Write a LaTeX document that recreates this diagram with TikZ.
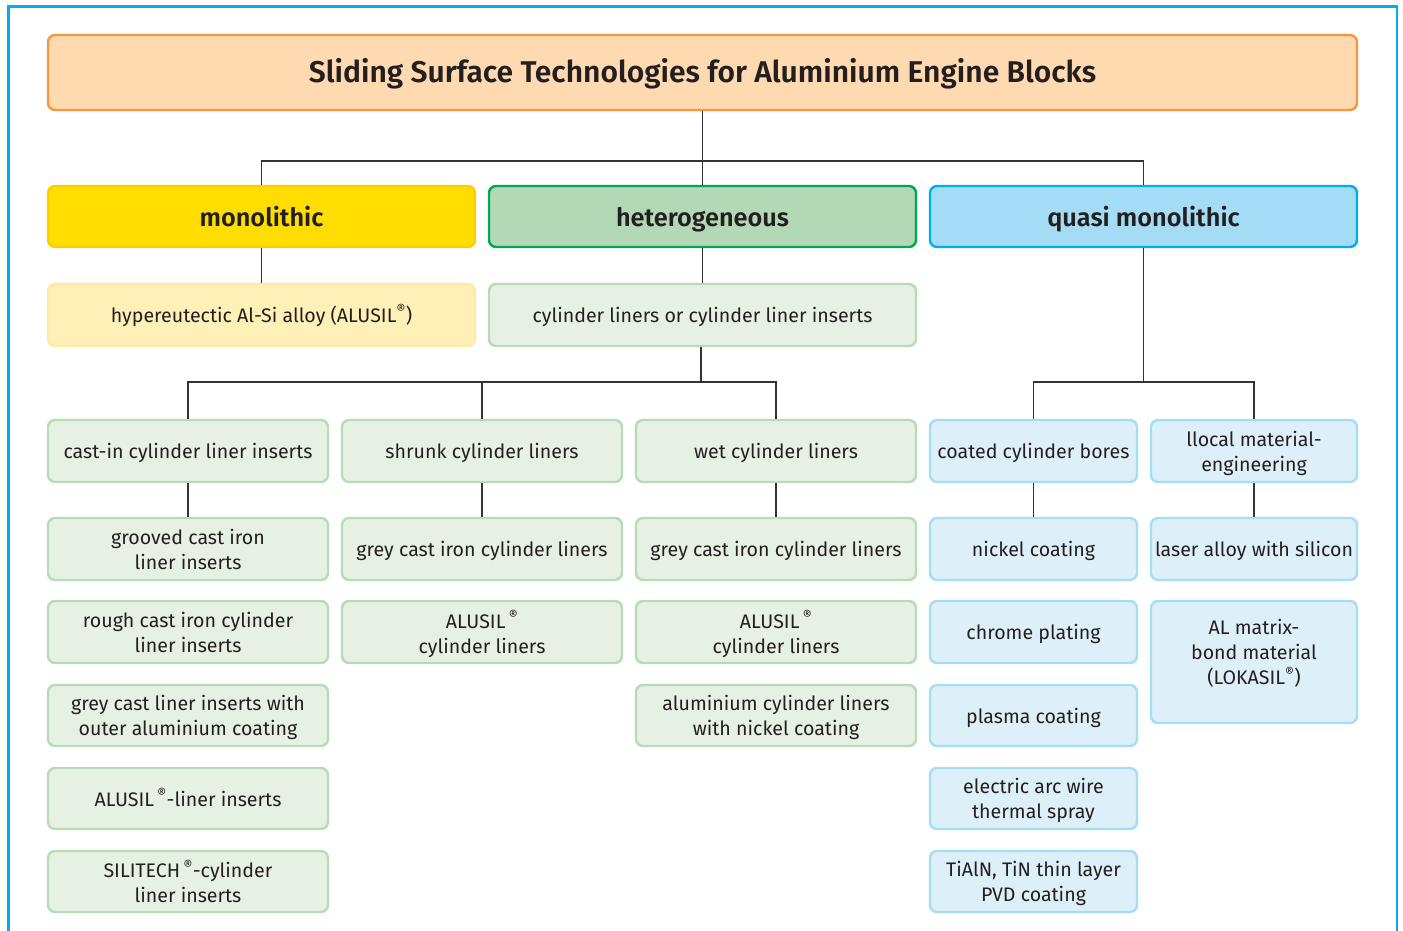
\documentclass[tikz,border=0pt]{standalone}
\usepackage{fontspec}
\setmainfont{Fira Sans}[BoldFont={Fira Sans SemiBold}]
\definecolor{frame}{HTML}{00AEEF}
\definecolor{txt}{HTML}{231F20}
\definecolor{titlefill}{HTML}{FFD9B0}
\definecolor{titledraw}{HTML}{F7963F}
\definecolor{monofill}{HTML}{FFDD00}
\definecolor{monodraw}{HTML}{F9CF00}
\definecolor{hetfill}{HTML}{B3D8B5}
\definecolor{hetdraw}{HTML}{00A651}
\definecolor{quasifill}{HTML}{A4DCF5}
\definecolor{quasidraw}{HTML}{00AEEF}
\definecolor{yfill}{HTML}{FFF0B8}
\definecolor{ydraw}{HTML}{FFEAA3}
\definecolor{gfill}{HTML}{E6F1E4}
\definecolor{gdraw}{HTML}{B6DCB7}
\definecolor{bfill}{HTML}{DDF0FA}
\definecolor{bdraw}{HTML}{A5DDF5}
\definecolor{conn}{HTML}{333333}
\tikzset{
  box/.style={rectangle, rounded corners=7pt, line width=2.4pt, align=center,
    inner sep=2pt, text=txt, font=\fontsize{19.6}{25}\selectfont,
    text height=18pt, text depth=3pt},
  multi/.style={text height=, text depth=-2pt},
  titlebox/.style={box, fill=titlefill, draw=titledraw, minimum width=1309pt, minimum height=75pt,
    font=\bfseries\fontsize{30}{34}\selectfont, text height=26pt, text depth=6pt},
  monobox/.style={box, fill=monofill, draw=monodraw, minimum width=427pt, minimum height=61pt,
    font=\bfseries\fontsize{25.3}{30}\selectfont, text height=22.5pt, text depth=3.5pt},
  hetbox/.style={monobox, fill=hetfill, draw=hetdraw},
  quasibox/.style={monobox, fill=quasifill, draw=quasidraw},
  ybox/.style={box, fill=yfill, draw=ydraw},
  gbox/.style={box, fill=gfill, draw=gdraw},
  bbox/.style={box, fill=bfill, draw=bdraw},
  wideA/.style={minimum width=427pt, minimum height=62pt},
  colw/.style={minimum width=280pt, minimum height=62pt},
  colD/.style={minimum width=207pt, minimum height=62pt},
  rowh/.style={minimum height=61pt},
  link/.style={draw=conn, line width=1.4pt},
}
\begin{document}
\begin{tikzpicture}[x=1pt,y=-1pt]
\useasboundingbox (0,0) rectangle (1403,930);
\draw[frame, line width=2.4pt] (8.5,940) -- (8.5,6.5) -- (1397,6.5) -- (1397,940);

\node[titlebox] (title) at (702.5,72.5) {Sliding Surface Technologies for Aluminium Engine Blocks};

\node[monobox] (mono) at (261.5,216.5) {monolithic};
\node[hetbox] (het) at (702.5,216.5) {heterogeneous};
\node[quasibox] (quasi) at (1143.5,216.5) {quasi monolithic};

\node[ybox, wideA] (monoc) at (261.5,315) {hypereutectic Al-Si alloy (ALUSIL\textsuperscript{®})};
\node[gbox, wideA] (hetc) at (702.5,315) {cylinder liners or cylinder liner inserts};

% row 3
\node[gbox, colw] (a3) at (188,451) {cast-in cylinder liner inserts};
\node[gbox, colw] (b3) at (482,451) {shrunk cylinder liners};
\node[gbox, colw] (c3) at (776,451) {wet cylinder liners};
\node[bbox, colD] (d3) at (1033.5,451) {coated cylinder bores};
\node[bbox, colD, multi, minimum width=206pt] (e3) at (1254,451) {llocal material-\\engineering};

% row 4
\node[gbox, colw, multi] (a4) at (188,549) {grooved cast iron\\liner inserts};
\node[gbox, colw] (b4) at (482,549) {grey cast iron cylinder liners};
\node[gbox, colw] (c4) at (776,549) {grey cast iron cylinder liners};
\node[bbox, colD] (d4) at (1033.5,549) {nickel coating};
\node[bbox, colD, minimum width=206pt] (e4) at (1254,549) {laser alloy with silicon};

% row 5
\node[gbox, colw, multi] (a5) at (188,632) {rough cast iron cylinder\\liner inserts};
\node[gbox, colw, multi] (b5) at (482,632) {ALUSIL\,\textsuperscript{®}\\cylinder liners};
\node[gbox, colw, multi] (c5) at (776,632) {ALUSIL\,\textsuperscript{®}\\cylinder liners};
\node[bbox, colD] (d5) at (1033.5,632) {chrome plating};
\node[bbox, multi, minimum width=206pt, minimum height=122pt, text depth=20pt] (e5) at (1254,662) {AL matrix-\\bond material\\(LOKASIL\textsuperscript{®})};

% row 6
\node[gbox, colw, rowh, multi] (a6) at (188,715.5) {grey cast liner inserts with\\outer aluminium coating};
\node[gbox, colw, rowh, multi] (c6) at (776,715.5) {aluminium cylinder liners\\with nickel coating};
\node[bbox, colD, rowh] (d6) at (1033.5,715.5) {plasma coating};

% row 7
\node[gbox, colw, rowh] (a7) at (188,798.5) {ALUSIL\,\textsuperscript{®}-liner inserts};
\node[bbox, colD, rowh, multi] (d7) at (1033.5,798.5) {electric arc wire\\thermal spray};

% row 8
\node[gbox, colw, rowh, multi] (a8) at (188,881.5) {SILITECH\,\textsuperscript{®}-cylinder\\liner inserts};
\node[bbox, colD, rowh, multi] (d8) at (1033.5,881.5) {TiAlN, TiN thin layer\\PVD coating};

% connectors
\coordinate (j1) at (702.5,161);
\coordinate (j2) at (701,382);
\coordinate (j3) at (1143.5,382);
\draw[link] (title.south) -- (j1);
\draw[link] (mono.north) |- (j1) -| (quasi.north);
\draw[link] (j1) -- (het.north);
\draw[link] (mono.south) -- (monoc.north);
\draw[link] (het.south) -- (het.south |- hetc.north);
\draw[link] (hetc.south -| j2) -- (j2);
\draw[link] (a3.north) |- (j2) -| (c3.north);
\draw[link] (b3.north) -- (b3.north |- j2);
\draw[link] (quasi.south) -- (j3);
\draw[link] (d3.north) |- (j3) -| (e3.north);
\draw[link] (a3.south) -- (a4.north);
\draw[link] (b3.south) -- (b4.north);
\draw[link] (c3.south) -- (c4.north);
\draw[link] (d3.south) -- (d4.north);
\draw[link] (e3.south) -- (e4.north);
\end{tikzpicture}
\end{document}
